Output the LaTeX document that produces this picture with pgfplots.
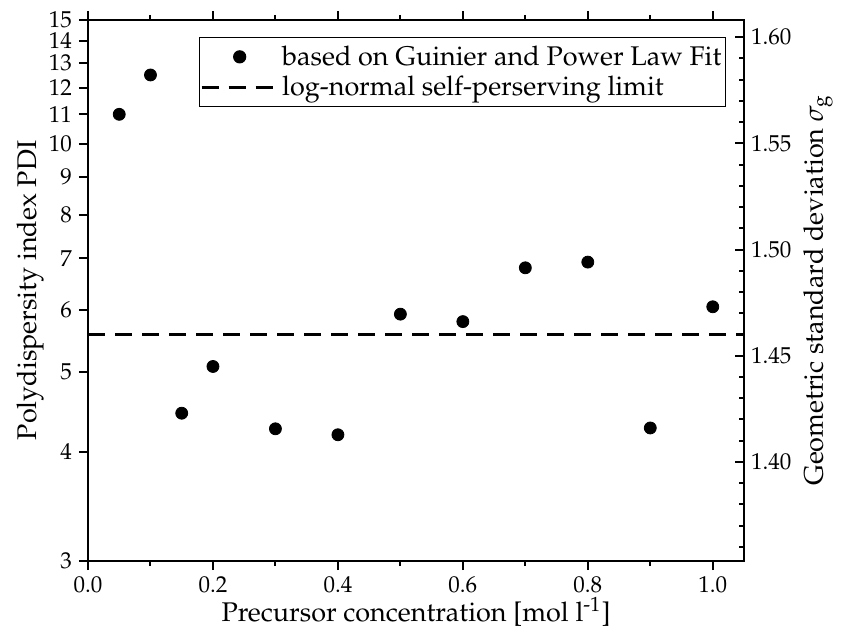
\documentclass[border=0pt]{standalone}
\usepackage[T1]{fontenc}
\usepackage{mathpazo}
\usepackage{pgfplots}
\pgfplotsset{compat=1.18}

\newcommand{\lblfont}{\fontsize{13.5bp}{16bp}\selectfont}
\newcommand{\tckfont}{\fontsize{11.5bp}{13.5bp}\selectfont}

\pgfplotsset{
  dotlegend/.style={legend image code/.code={\path (0bp,0bp) (38bp,0bp);
    \draw[##1] plot coordinates {(19bp,0bp)};}},
  dashlegend/.style={legend image code/.code={\draw[##1] (0bp,0bp) -- (38bp,0bp);}},
}

\begin{document}
\begin{tikzpicture}
% page frame, same proportions as the reference
\path (-44bp,-37bp) rectangle (376.5bp,280.5bp);

% left axis: PDI, placed on a linear sigma_g scale (PDI = exp(12 ln^2 sigma_g))
\begin{axis}[
  at={(0bp,0bp)}, anchor=south west,
  scale only axis, width=328bp, height=270.5bp,
  xmin=0, xmax=1.05,
  y coord trafo/.code={\pgfmathparse{exp(sqrt(ln(#1)/12))}},
  ymin=3, ymax=15,
  ytick={3,4,5,6,7,8,9,10,11,12,13,14,15},
  yticklabels={3,4,5,6,7,8,9,10,11,12,13,14,15},
  xtick={0,0.2,0.4,0.6,0.8,1.0},
  xticklabels={0.0,0.2,0.4,0.6,0.8,1.0},
  minor xtick={0.1,0.3,0.5,0.7,0.9},
  xtick pos=both, ytick pos=left, tick align=outside,
  major tick length=4.5bp, minor tick length=2.5bp,
  tick style={black, line width=1bp},
  axis line style={line width=1bp},
  tick label style={font=\tckfont},
  label style={font=\lblfont},
  xlabel={Precursor concentration [mol l\textsuperscript{-1}]},
  ylabel={Polydispersity index PDI},
  x label style={at={(axis description cs:0.5,-0.094)}, anchor=center},
  y label style={at={(axis description cs:-0.088,0.5)}, anchor=center},
  legend style={at={(axis description cs:0.9726,0.9686)}, anchor=north east,
    draw=black, line width=0.6bp, font=\lblfont,
    inner xsep=0.5bp, inner ysep=2bp, row sep=0bp,
    nodes={inner xsep=1.5bp}},
  legend cell align=left,
]
\addplot[only marks, mark=*, mark size=3bp, black, dotlegend]
  table {
X Y
0.05 11.0
0.10 12.5
0.15 4.45
0.20 5.08
0.30 4.26
0.40 4.19
0.50 5.92
0.60 5.79
0.70 6.80
0.80 6.92
0.90 4.27
1.00 6.05
};
\addlegendentry{based on Guinier and Power Law Fit}

\addplot[black, line width=1.5bp, dash pattern=on 8.5bp off 5bp, dashlegend]
  coordinates {(0,5.57) (1.05,5.57)};
\addlegendentry{log-normal self-perserving limit}
\end{axis}

% right axis: geometric standard deviation, linear
\begin{axis}[
  at={(0bp,0bp)}, anchor=south west,
  scale only axis, width=328bp, height=270.5bp,
  xmin=0, xmax=1.05, ymin=1.353323, ymax=1.608087,
  hide x axis, axis y line*=right,
  ytick={1.40,1.45,1.50,1.55,1.60},
  yticklabels={1.40,1.45,1.50,1.55,1.60},
  minor ytick={1.36,1.37,1.38,1.39,1.41,1.42,1.43,1.44,1.46,1.47,1.48,1.49,
    1.51,1.52,1.53,1.54,1.56,1.57,1.58,1.59},
  tick align=inside,
  major tick length=4.5bp, minor tick length=2.5bp,
  tick style={black, line width=1bp},
  axis line style={line width=1bp},
  tick label style={font=\tckfont},
  ylabel={Geometric standard deviation $\sigma_\mathrm{g}$},
  y label style={font=\lblfont, at={(axis description cs:1.1128,0.5)}, anchor=center},
]
\end{axis}
\end{tikzpicture}
\end{document}
